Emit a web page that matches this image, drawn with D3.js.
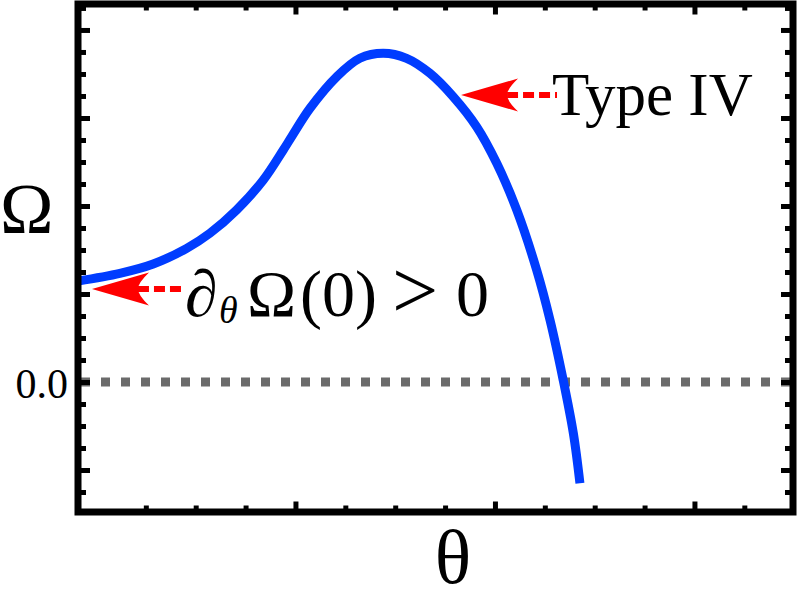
<!DOCTYPE html>
<html>
<head>
<style>
  body { margin: 0; background: white; font-family: "Liberation Serif", "Times New Roman", serif; }
  svg { display: block; }
</style>
<script src="https://cdn.jsdelivr.net/npm/d3@7"></script>
</head>
<body>
<svg id="chart" width="797" height="590"></svg>
<script>
// curve (theta, Omega)
let thetaVals = [-0.090, 0.120, 0.287, 0.455, 0.571, 0.705, 0.839, 0.939, 0.981, 1.073, 1.207,
  1.323, 1.440, 1.557, 1.674, 1.791, 1.908, 2.009, 2.109, 2.209, 2.276, 2.342, 2.393, 2.426]
let omegaVals = [1.148, 1.235, 1.341, 1.519, 1.690, 1.955, 2.295, 2.636, 2.788, 3.110, 3.469,
  3.678, 3.735, 3.678, 3.508, 3.242, 2.901, 2.485, 1.955, 1.273, 0.705, 0.023, -0.583, -1.151]

let xMajor = [1, 2, 3]
let xMinor = [0.25, 0.5, 0.75, 1.25, 1.5, 1.75, 2.25, 2.5, 2.75, 3.25]
let yMajor = [-1, 0, 1, 2, 3, 4]
let yMinor = [-1.25, -0.75, -0.5, -0.25, 0.25, 0.5, 0.75, 1.25, 1.5, 1.75, 2.25, 2.5, 2.75, 3.25, 3.5, 3.75, 4.25]
let yTickLabels = {"0": "0.0"}

// arrows: tip point and tail theta
let arrowTipTheta = [1.830, -0.020]
let arrowTipOmega = [3.261, 1.057]
let arrowTailTheta = [2.311, 0.446]

let svg = d3.select("#chart")
let pLeft = 78, pRight = 793, pTop = 4, pBottom = 512

let x = d3.scaleLinear().domain([-0.09, 3.494]).range([pLeft, pRight])
let y = d3.scaleLinear().domain([4.295, -1.477]).range([pTop, pBottom])

// zero reference line
svg.append("line")
  .attr("x1", pLeft + 3).attr("x2", pRight)
  .attr("y1", y(0)).attr("y2", y(0))
  .attr("stroke", "#6b6b6b")
  .attr("stroke-width", 9)
  .attr("stroke-dasharray", "9,11")

// curve
let pts = thetaVals.map((t, i) => [t, omegaVals[i]])
let line = d3.line().x(d => x(d[0])).y(d => y(d[1])).curve(d3.curveCatmullRom.alpha(0.5))
svg.append("path")
  .attr("d", line(pts))
  .attr("fill", "none")
  .attr("stroke", "#003cff")
  .attr("stroke-width", 9)

// ticks
function addAxis(axis, tx, ty) {
  let g = svg.append("g").attr("transform", `translate(${tx},${ty})`).call(axis)
  g.select(".domain").remove()
  g.selectAll(".tick line").attr("stroke", "black").attr("stroke-width", 5)
  g.selectAll("text")
    .attr("font-family", "'Liberation Serif', 'Times New Roman', serif")
    .attr("font-size", 42).attr("fill", "black")
  return g
}
addAxis(d3.axisLeft(y).tickValues(yMajor).tickSize(-12).tickPadding(10)
  .tickFormat(d => yTickLabels[d] || ""), pLeft, 0)
  .selectAll("text").attr("dy", "0.36em")
addAxis(d3.axisLeft(y).tickValues(yMinor).tickSize(-8).tickFormat(""), pLeft, 0)
addAxis(d3.axisRight(y).tickValues(yMajor).tickSize(-12).tickFormat(""), pRight, 0)
addAxis(d3.axisRight(y).tickValues(yMinor).tickSize(-8).tickFormat(""), pRight, 0)
addAxis(d3.axisBottom(x).tickValues(xMajor).tickSize(-10.5).tickFormat(""), 0, pBottom)
addAxis(d3.axisBottom(x).tickValues(xMinor).tickSize(-6.5).tickFormat(""), 0, pBottom)
addAxis(d3.axisTop(x).tickValues(xMajor).tickSize(-10.5).tickFormat(""), 0, pTop)
addAxis(d3.axisTop(x).tickValues(xMinor).tickSize(-6.5).tickFormat(""), 0, pTop)

// frame
svg.append("rect")
  .attr("x", pLeft).attr("y", pTop)
  .attr("width", pRight - pLeft).attr("height", pBottom - pTop)
  .attr("fill", "none").attr("stroke", "black").attr("stroke-width", 7)

// arrows
arrowTipTheta.forEach((t, i) => {
  let tx = x(t), ty = y(arrowTipOmega[i])
  let len = 57, half = 16.5, notch = 11
  svg.append("line")
    .attr("x1", tx + len - notch).attr("x2", x(arrowTailTheta[i]))
    .attr("y1", ty).attr("y2", ty)
    .attr("stroke", "#ff0000").attr("stroke-width", 6)
    .attr("stroke-dasharray", "11,5")
  svg.append("path")
    .attr("d", `M${tx},${ty} L${tx + len},${ty - half} Q${tx + len - notch},${ty - 6} ${tx + len - notch},${ty} Q${tx + len - notch},${ty + 6} ${tx + len},${ty + half} Z`)
    .attr("fill", "#ff0000")
})

// annotation texts
svg.append("text")
  .attr("x", 552).attr("y", 115)
  .attr("font-size", 61)
  .text("Type IV")

let lab = svg.append("text").attr("y", 316).attr("font-size", 66)
lab.append("tspan").attr("x", 185).attr("font-style", "italic").text("∂")
lab.append("tspan").attr("x", 219).attr("y", 323).attr("font-size", 38).attr("font-style", "italic").text("θ")
lab.append("tspan").attr("x", 247).attr("y", 316).text("Ω")
lab.append("tspan").attr("x", 300).text("(0)")
lab.append("tspan").attr("x", 392).attr("y", 318).attr("font-size", 82).text(">")
lab.append("tspan").attr("x", 456).attr("y", 316).text("0")

// axis labels
svg.append("text").attr("x", 0).attr("y", 233).attr("font-size", 72).text("Ω")
svg.append("text").attr("x", 453).attr("y", 583).attr("font-size", 76)
  .attr("text-anchor", "middle").text("θ")
</script>
</body>
</html>
